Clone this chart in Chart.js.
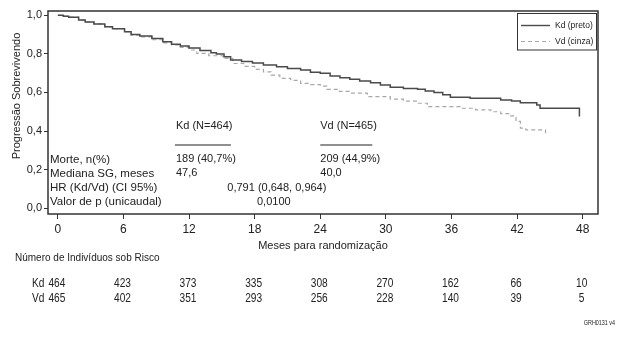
<!DOCTYPE html>
<html>
<head>
<meta charset="utf-8">
<script src="https://cdn.jsdelivr.net/npm/chart.js@4/dist/chart.umd.min.js"></script>
<style>
  html, body { margin: 0; padding: 0; background: #fff; }
  #wrap { width: 622px; height: 342px; position: relative; }
</style>
</head>
<body>
<div id="wrap"><canvas id="c" width="622" height="342"></canvas></div>
<script>
// ---- data ----
const kdMonths = [0, 0.5, 1.0, 1.9, 2.5, 3.3, 4.3, 5.0, 6.1, 6.7, 7.5, 8.6, 9.6, 10.4, 11.2, 12.0, 13.0, 14.0, 14.5, 15.2, 15.8, 16.8, 17.8, 18.8, 20.0, 21.0, 22.2, 23.1, 24.0, 24.9, 25.8, 26.7, 27.6, 28.6, 29.5, 30.4, 31.6, 32.9, 33.6, 34.4, 35.2, 35.9, 37.7, 40.5, 41.5, 42.3, 43.8, 44.1, 47.7];
const kdSurv   = [1.0, 0.995, 0.99, 0.975, 0.965, 0.955, 0.94, 0.93, 0.915, 0.9, 0.893, 0.88, 0.862, 0.85, 0.84, 0.83, 0.817, 0.805, 0.799, 0.785, 0.768, 0.76, 0.752, 0.742, 0.733, 0.724, 0.716, 0.705, 0.699, 0.685, 0.676, 0.668, 0.659, 0.65, 0.638, 0.627, 0.621, 0.616, 0.607, 0.599, 0.588, 0.575, 0.57, 0.561, 0.555, 0.547, 0.535, 0.518, 0.475];

const vdMonths = [0, 0.5, 1.0, 1.9, 2.5, 3.3, 4.3, 5.0, 6.1, 6.7, 7.5, 8.6, 9.6, 10.4, 11.2, 12.0, 12.7, 13.8, 15.1, 16.0, 17.0, 18.0, 18.8, 19.5, 20.3, 21.3, 22.2, 23.1, 24.0, 24.6, 25.6, 26.7, 28.3, 30.4, 31.6, 32.9, 33.8, 36.8, 38.2, 39.6, 40.5, 41.4, 41.9, 42.3, 42.8, 44.6];
const vdSurv   = [1.0, 0.995, 0.99, 0.975, 0.965, 0.955, 0.94, 0.93, 0.915, 0.897, 0.888, 0.873, 0.857, 0.846, 0.833, 0.82, 0.802, 0.79, 0.776, 0.75, 0.735, 0.72, 0.707, 0.69, 0.673, 0.662, 0.647, 0.64, 0.633, 0.616, 0.605, 0.596, 0.578, 0.565, 0.555, 0.544, 0.526, 0.518, 0.51, 0.5, 0.49, 0.478, 0.45, 0.415, 0.406, 0.389];

const xTicks = [0, 6, 12, 18, 24, 30, 36, 42, 48];
const yTicks = [0, 0.2, 0.4, 0.6, 0.8, 1.0];

const riskMonths = [0, 6, 12, 18, 24, 30, 36, 42, 48];
const kdRisk = [464, 423, 373, 335, 308, 270, 162, 66, 10];
const vdRisk = [465, 402, 351, 293, 256, 228, 140, 39, 5];

const seriesNames = ['Kd (preto)', 'Vd (cinza)'];

// ---- helpers ----
const toPts = (xs, ys) => xs.map((v, i) => ({ x: v, y: ys[i] }));
const SANS = '"Liberation Sans", Arial, sans-serif';
const TXT = '#222';

function condText(ctx, text, x, y, align, sx) {
  ctx.save();
  ctx.translate(x, y);
  ctx.scale(sx, 1);
  ctx.textAlign = align;
  ctx.fillText(text, 0, 0);
  ctx.restore();
}

const overlay = {
  id: 'overlay',
  afterDraw(chart) {
    const { ctx, chartArea: a, scales: { x } } = chart;
    ctx.save();
    // frame
    ctx.strokeStyle = '#333';
    ctx.lineWidth = 1.5;
    ctx.strokeRect(a.left, a.top, a.right - a.left, a.bottom - a.top);

    // legend box
    ctx.lineWidth = 1;
    ctx.strokeStyle = '#333';
    ctx.strokeRect(517.5, 13.5, 79, 36.5);
    ctx.setLineDash([]);
    ctx.strokeStyle = '#4a4a4a'; ctx.lineWidth = 1.4;
    ctx.beginPath(); ctx.moveTo(521, 25.5); ctx.lineTo(550, 25.5); ctx.stroke();
    ctx.setLineDash([4, 3]);
    ctx.strokeStyle = '#a8a8a8'; ctx.lineWidth = 1.2;
    ctx.beginPath(); ctx.moveTo(521, 41.5); ctx.lineTo(550, 41.5); ctx.stroke();
    ctx.setLineDash([]);
    ctx.fillStyle = TXT;
    ctx.font = '8.5px ' + SANS;
    ctx.textAlign = 'left'; ctx.textBaseline = 'middle';
    ctx.fillText(seriesNames[0], 555, 25.5);
    ctx.fillText(seriesNames[1], 555, 41.5);

    // annotation block
    const colKd = x.getPixelForValue(10.8);
    const colVd = x.getPixelForValue(24.0);
    ctx.font = '11px ' + SANS;
    ctx.fillText('Kd (N=464)', colKd, 126);
    ctx.fillText('Vd (N=465)', colVd, 126);
    ctx.strokeStyle = '#222'; ctx.lineWidth = 1.2;
    ctx.beginPath(); ctx.moveTo(colKd - 1, 145); ctx.lineTo(colKd + 55, 145); ctx.stroke();
    ctx.beginPath(); ctx.moveTo(colVd, 145); ctx.lineTo(colVd + 52, 145); ctx.stroke();

    const lx = a.left + 2;
    ctx.font = '11.5px ' + SANS;
    ctx.fillText('Morte, n(%)', lx, 160);
    ctx.fillText('Mediana SG, meses', lx, 174);
    ctx.fillText('HR (Kd/Vd) (CI 95%)', lx, 188);
    ctx.fillText('Valor de p (unicaudal)', lx, 201.5);
    ctx.font = '11px ' + SANS;
    ctx.fillText('189 (40,7%)', colKd, 158.5);
    ctx.fillText('47,6', colKd, 172.5);
    ctx.fillText('209 (44,9%)', colVd, 158.5);
    ctx.fillText('40,0', colVd, 172.5);
    ctx.fillText('0,791 (0,648, 0,964)', x.getPixelForValue(15.5), 188);
    ctx.textAlign = 'center';
    ctx.fillText('0,0100', x.getPixelForValue(19.75), 201.5);

    // y axis title
    ctx.save();
    ctx.translate(17, 96);
    ctx.rotate(-Math.PI / 2);
    ctx.textAlign = 'center';
    ctx.font = '11px ' + SANS;
    ctx.fillText('Progressão Sobrevivendo', 0, 0);
    ctx.restore();

    // x axis title
    ctx.textAlign = 'center';
    ctx.font = '11px ' + SANS;
    ctx.fillText('Meses para randomização', (a.left + a.right) / 2, 246);

    // risk table
    ctx.textAlign = 'left';
    ctx.font = '10px ' + SANS;
    ctx.fillText('Número de Indivíduos sob Risco', 15, 258);
    ctx.font = '13px ' + SANS;
    condText(ctx, 'Kd', 32, 283, 'left', 0.78);
    condText(ctx, 'Vd', 32, 298, 'left', 0.78);
    riskMonths.forEach((m, i) => {
      const px = x.getPixelForValue(m) - 1;
      condText(ctx, String(kdRisk[i]), px, 283, 'center', 0.78);
      condText(ctx, String(vdRisk[i]), px, 298, 'center', 0.78);
    });

    ctx.font = '7.5px ' + SANS;
    condText(ctx, 'GRH0131 v4', 615, 323, 'right', 0.72);
    ctx.restore();
  }
};

new Chart(document.getElementById('c'), {
  type: 'line',
  data: {
    datasets: [
      { label: seriesNames[0], data: toPts(kdMonths, kdSurv), borderColor: '#4a4a4a', borderWidth: 1.5,
        pointRadius: 0, stepped: true, fill: false },
      { label: seriesNames[1], data: toPts(vdMonths, vdSurv), borderColor: '#a8a8a8', borderWidth: 1.2,
        borderDash: [4, 3], pointRadius: 0, stepped: true, fill: false }
    ]
  },
  options: {
    responsive: false,
    animation: false,
    events: [],
    layout: { padding: { top: 11, right: 24, left: 0, bottom: 0 } },
    plugins: { legend: { display: false }, tooltip: { enabled: false } },
    scales: {
      x: {
        type: 'linear',
        min: -0.9, max: 49.4,
        afterBuildTicks: s => { s.ticks = xTicks.map(v => ({ value: v })); },
        afterFit: s => { s.height = 128; },
        border: { display: false },
        grid: { drawOnChartArea: false, drawTicks: true, tickLength: 5, color: '#333', lineWidth: 1 },
        ticks: { color: TXT, padding: 3, maxRotation: 0, autoSkip: false,
                 font: { family: SANS, size: 12 } }
      },
      y: {
        type: 'linear',
        min: -0.03, max: 1.022,
        afterBuildTicks: s => { s.ticks = yTicks.map(v => ({ value: v })); },
        afterFit: s => { s.width = 48; },
        border: { display: false },
        grid: { drawOnChartArea: false, drawTicks: true, tickLength: 4, color: '#333', lineWidth: 1 },
        ticks: { color: TXT, padding: 2,
                 callback: v => v.toFixed(1).replace('.', ','),
                 font: { family: SANS, size: 11 } }
      }
    }
  },
  plugins: [overlay]
});
</script>
</body>
</html>
